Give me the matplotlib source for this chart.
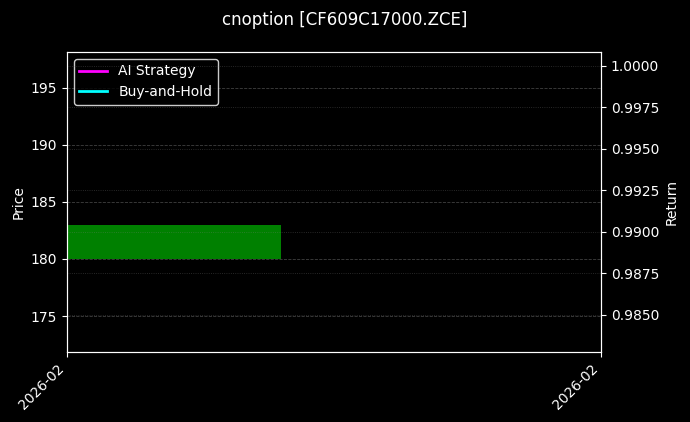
import numpy as np
import matplotlib.pyplot as plt
import matplotlib.dates as mdates
from datetime import datetime

# one daily candle and the two return curves (single point each)
dates = [datetime(2026, 2, 13)]
opens = [180.0]
closes = [183.0]
ai_ret = [0.9918]
bh_ret = [0.9918]

plt.style.use('dark_background')
fig = plt.figure(figsize=(6.9, 4.22), dpi=100)
ax = fig.add_axes([0.097, 0.166, 0.774, 0.711])
ax2 = ax.twinx()

x = mdates.date2num(dates)
w = 0.8
for xi, o, c in zip(x, opens, closes):
    col = 'green' if c >= o else 'red'
    ax.bar(xi, c - o, bottom=o, width=w, color=col)

l1, = ax2.plot(x, ai_ret, color='magenta', lw=2, label='AI Strategy')
l2, = ax2.plot(x, bh_ret, color='cyan', lw=2, label='Buy-and-Hold')

ax.set_xlim(x[0] - w / 2, x[0] + 1.6)
ax.set_ylim(171.85, 198.15)
ax2.set_ylim(0.98277, 1.00084)
ax2.set_yticks(np.arange(0.985, 1.0001, 0.0025))
ax2.yaxis.set_major_formatter(plt.FormatStrFormatter('%.4f'))

ax.set_xticks([x[0] - w / 2, x[0] + 1.6])
ax.xaxis.set_major_formatter(mdates.DateFormatter('%Y-%m'))
plt.setp(ax.get_xticklabels(), rotation=45, ha='right')

ax.grid(True, axis='y', linestyle='--', color='gray', alpha=0.5, lw=0.6)
ax2.grid(True, axis='y', linestyle=':', color='gray', alpha=0.4, lw=0.6)

ax.set_ylabel('Price')
ax2.set_ylabel('Return')
ax.legend([l1, l2], ['AI Strategy', 'Buy-and-Hold'], loc='upper left',
          facecolor='black', edgecolor='white')
fig.suptitle('cnoption [CF609C17000.ZCE]', y=0.975, fontsize=12)

fig.savefig('out.png', dpi=100, facecolor='black')
